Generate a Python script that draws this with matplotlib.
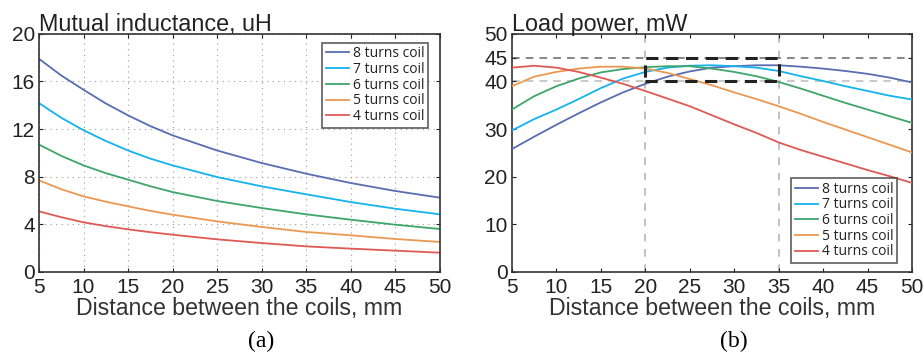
import matplotlib.pyplot as plt
from matplotlib.patches import Rectangle

# distances, mm
dist_a = [5, 7.5, 10, 12.5, 15, 17.5, 20, 25, 30, 35, 40, 45, 50]
dist_b = [5, 7.5, 10, 12.5, 15, 17.5, 20, 22.5, 25, 27.5, 30,
          32.5, 35, 37.5, 40, 42.5, 45, 47.5, 50]

# mutual inductance, uH
m8 = [17.9, 16.5, 15.3, 14.15, 13.15, 12.25, 11.47, 10.2, 9.15, 8.25, 7.47, 6.8, 6.24]
m7 = [14.18, 12.95, 11.9, 11.0, 10.2, 9.52, 8.95, 7.97, 7.19, 6.52, 5.87, 5.31, 4.84]
m6 = [10.7, 9.75, 8.95, 8.3, 7.75, 7.2, 6.71, 5.96, 5.37, 4.84, 4.39, 3.97, 3.61]
m5 = [7.69, 6.95, 6.35, 5.9, 5.51, 5.13, 4.81, 4.25, 3.78, 3.36, 3.08, 2.77, 2.52]
m4 = [5.09, 4.6, 4.17, 3.85, 3.58, 3.34, 3.13, 2.74, 2.43, 2.15, 1.96, 1.79, 1.62]

# load power, mW
p8 = [25.8, 28.4, 30.9, 33.3, 35.6, 37.7, 39.5, 41.0, 42.1, 42.9, 43.2,
      43.4, 43.4, 43.1, 42.7, 42.2, 41.6, 40.8, 39.8]
p7 = [29.7, 32.1, 34.1, 36.3, 38.6, 40.6, 42.0, 42.9, 43.3, 43.4, 43.2,
      42.9, 42.2, 41.1, 40.1, 39.0, 38.0, 37.0, 36.2]
p6 = [34.1, 36.9, 39.0, 40.6, 41.9, 42.6, 43.0, 43.2, 43.2, 42.7, 42.0,
      41.1, 39.9, 38.5, 37.0, 35.5, 34.1, 32.7, 31.3]
p5 = [39.0, 41.0, 42.0, 42.7, 43.1, 43.1, 42.7, 41.8, 40.5, 39.2, 37.7,
      36.3, 34.8, 33.2, 31.5, 29.9, 28.3, 26.7, 25.1]
p4 = [42.9, 43.3, 42.9, 42.0, 40.8, 39.5, 38.0, 36.4, 34.8, 32.9, 31.0,
      29.2, 27.2, 25.6, 24.2, 22.8, 21.4, 20.1, 18.7]

labels = ['8 turns coil', '7 turns coil', '6 turns coil', '5 turns coil', '4 turns coil']
colors = ['#5a6cb2', '#14b2ee', '#3ea56b', '#ec9852', '#df5a55']

plt.rcParams['font.family'] = ['Liberation Sans', 'DejaVu Sans']

fig = plt.figure(figsize=(9.24, 3.56), dpi=100)
ax1 = fig.add_axes([0.0422, 0.236, 0.434, 0.669])
ax2 = fig.add_axes([0.554, 0.236, 0.433, 0.669])

def style(ax):
    ax.set_xlim(5, 50)
    ax.set_xticks(range(5, 51, 5))
    ax.tick_params(direction='in', top=True, right=True, length=3, width=0.8,
                   labelsize=15, colors='#222222')
    ax.tick_params(axis='x', pad=4)
    ax.tick_params(axis='y', pad=3)
    for s in ax.spines.values():
        s.set_color('#333333')
        s.set_linewidth(1.2)
    ax.set_xlabel('Distance between the coils, mm', fontsize=16.7, color='#333333', labelpad=0)

def legend(ax, anchor, loc):
    leg = ax.legend(loc=loc, bbox_to_anchor=anchor, frameon=True, fancybox=False,
                    handlelength=1.65, handletextpad=0.3, labelspacing=0.05,
                    borderpad=0.25, borderaxespad=0,
                    prop={'family': 'Open Sans', 'size': 10})
    leg.get_frame().set_edgecolor('#333333')
    leg.get_frame().set_linewidth(1.2)
    leg.set_zorder(5)
    for t in leg.get_texts():
        t.set_color('#222222')

# (a)
for y, lab, c in zip([m8, m7, m6, m5, m4], labels, colors):
    ax1.plot(dist_a, y, color=c, lw=1.3, label=lab)
style(ax1)
ax1.set_ylim(0, 20)
ax1.set_yticks([0, 4, 8, 12, 16, 20])
ax1.grid(True, linestyle=(0, (1, 4)), color='#999999', lw=0.8)
ax1.set_title('Mutual inductance, uH', loc='left', fontsize=16.8, color='#222222', pad=2)
legend(ax1, (0.970, 0.962), 'upper right')

# (b)
for y, lab, c in zip([p8, p7, p6, p5, p4], labels, colors):
    ax2.plot(dist_b, y, color=c, lw=1.3, label=lab, zorder=3)
style(ax2)
ax2.set_ylim(0, 50)
ax2.set_yticks([0, 10, 20, 30, 40, 45, 50])
for xv in [20, 35]:
    ax2.axvline(xv, color='#b0b0b0', ls=(0, (5, 5)), lw=1.1, zorder=1)
ax2.axhline(45, color='#666666', ls=(0, (5, 4)), lw=1.1, zorder=1)
ax2.axhline(40, color='#bbbbbb', ls=(0, (5, 4)), lw=1.1, zorder=1)
ax2.add_patch(Rectangle((20, 40), 15, 5, fill=False, ec='#222222', lw=2.2,
                        ls=(0, (4, 2.5)), zorder=4))
ax2.set_title('Load power, mW', loc='left', fontsize=16.8, color='#222222', pad=2)
legend(ax2, (0.9625, 0.038), 'lower right')

fig.text(0.2825, 0.040, '(a)', family='Liberation Serif', fontsize=17, ha='center', va='center')
fig.text(0.794, 0.040, '(b)', family='Liberation Serif', fontsize=17, ha='center', va='center')

fig.savefig('out.png', dpi=100)
